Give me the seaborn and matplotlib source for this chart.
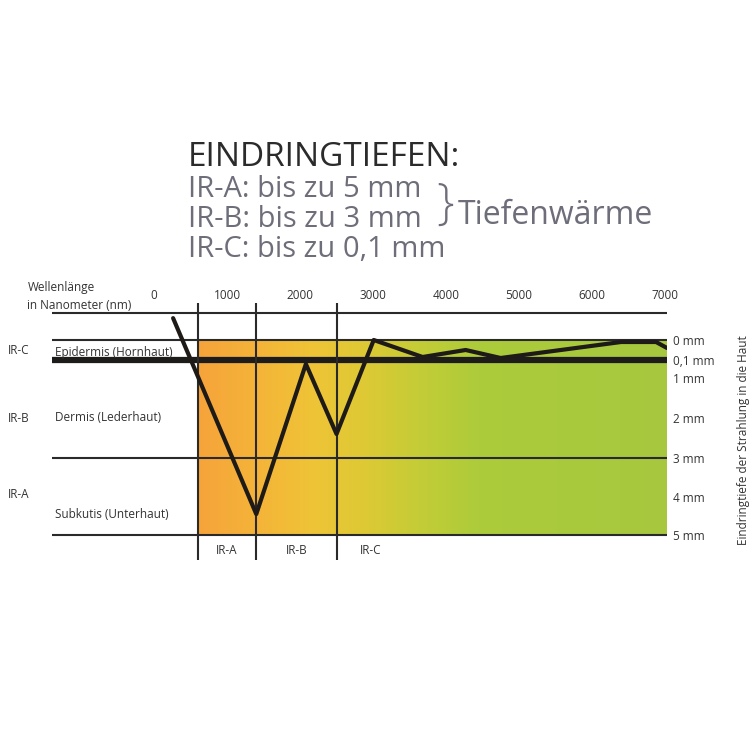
import numpy as np
import matplotlib
matplotlib.use("Agg")
import matplotlib.pyplot as plt
from matplotlib.colors import LinearSegmentedColormap, Normalize
import seaborn as sns

# penetration curve: wavelength (nm) -> depth in skin (mm)
wavelength_nm = [260, 1400, 2080, 2500, 3010, 3680, 4270, 4750, 6400, 6880, 7030]
depth_mm = [-0.81, 4.45, 0.3, 2.4, 0.0, 0.085, 0.05, 0.09, 0.01, 0.01, 0.04]

wl_ticks = [0, 1000, 2000, 3000, 4000, 5000, 6000, 7000]
depth_ticks = [0, 0.1, 1, 2, 3, 4, 5]
depth_labels = ["0 mm", "0,1 mm", "1 mm", "2 mm", "3 mm", "4 mm", "5 mm"]

band_edges = [600, 1400, 2500]          # vertical separators (nm)
band_names = ["IR-A", "IR-B", "IR-C"]
band_label_x = [1000, 1950, 2970]
layer_lines = [-1, 0, 3, 5]             # thin horizontal lines (mm)
horny_layer = 0.1                       # thick line (mm)

title = "EINDRINGTIEFEN:"
title_lines = ["IR-A: bis zu 5 mm", "IR-B: bis zu 3 mm", "IR-C: bis zu 0,1 mm"]

# the depth axis of the drawing is not linear -> piecewise mapping
_d = [-1.4, -1, 0, 0.1, 1, 2, 3, 4, 5, 6]
_p = [303, 313, 340, 360, 378, 418, 458, 497, 535, 560]


def fwd(v):
    return np.interp(v, _d, _p)


def inv(v):
    return np.interp(v, _p, _d)


W = H = 750


def px(x, y):
    return x / W, 1 - y / H


sns.set_theme(style="white")
plt.rcParams["font.family"] = ["Open Sans", "DejaVu Sans"]

fig = plt.figure(figsize=(7.5, 7.5), dpi=100)
ax = fig.add_axes([52 / W, 1 - 560 / H, 615 / W, 257 / H])
ax.set_yscale("function", functions=(fwd, inv))
ax.set_xlim(-1400, 7030)
ax.set_ylim(6, -1.4)
for s in ax.spines.values():
    s.set_visible(False)

# colour gradient (orange -> yellow -> green)
grad = LinearSegmentedColormap.from_list(
    "ir",
    [(0.0, "#f5a33a"), (0.13, "#f4b438"), (0.25, "#eec436"),
     (0.36, "#dcc934"), (0.47, "#c4cc36"), (0.6, "#accb3a"), (1.0, "#a6c73e")],
)
gx = np.linspace(600, 7030, 300)
gy = np.array([0, 5])
gc = ((gx[:-1] + gx[1:]) / 2)[None, :]
ax.pcolormesh(gx, gy, gc, cmap=grad, norm=Normalize(600, 7030), shading="flat",
              zorder=0, rasterized=True)

line_c = "#2a2a2a"
for d in layer_lines:
    ax.axhline(d, color=line_c, lw=1.5, zorder=2)
ax.axhline(horny_layer, color="#1e1c1a", lw=4.5, zorder=2)
for e in band_edges:
    ax.axvline(e, color=line_c, lw=1.5, zorder=2)

sns.lineplot(x=wavelength_nm, y=depth_mm, ax=ax, color="#1e1a17", lw=3,
             sort=False, zorder=3)

fs = 8.5
# axes labels as ticks
ax.xaxis.tick_top()
ax.set_xticks(wl_ticks)
ax.set_xticklabels([str(t) for t in wl_ticks])
ax.tick_params(axis="x", length=0, pad=0.5, labelsize=fs, labelcolor="#333333")
ax.yaxis.tick_right()
ax.set_yticks(depth_ticks)
ax.set_yticklabels(depth_labels)
ax.yaxis.set_minor_locator(matplotlib.ticker.NullLocator())
ax.tick_params(axis="y", length=0, pad=4, labelsize=fs, labelcolor="#333333")
ax.yaxis.set_label_position("right")
ax.set_ylabel("Eindringtiefe der Strahlung in die Haut", fontsize=fs,
              color="#333333", rotation=90)
ax.yaxis.set_label_coords((737 - 52) / 615, (560 - 440) / 257)
ax.set_xlabel("")

for name, x in zip(band_names, band_label_x):
    ax.text(x, 5.64, name, ha="center", va="center", fontsize=fs, color="#333333")

# left-hand labels
small = dict(fontsize=fs, color="#333333", va="center", ha="left")
fig.text(*px(28, 288), "Wellenlänge", **small)
fig.text(*px(27, 305), "in Nanometer (nm)", **small)
fig.text(*px(8, 350), "IR-C", **small)
fig.text(*px(8, 418), "IR-B", **small)
fig.text(*px(8, 495), "IR-A", **small)
fig.text(*px(55, 352), "Epidermis (Hornhaut)", **small)
fig.text(*px(55, 417), "Dermis (Lederhaut)", **small)
fig.text(*px(55, 515), "Subkutis (Unterhaut)", **small)

# heading block
grey = "#6e6e7a"
fig.text(*px(188, 166), title, fontsize=24, color="#2b2b2b", ha="left",
         va="baseline")
for i, t in enumerate(title_lines):
    fig.text(*px(188, 197 + 30 * i), t, fontsize=21, color=grey,
             ha="left", va="baseline")
fig.text(*px(436, 206), "}", fontsize=36, color=grey, ha="left",
         va="center", fontweight="light")
fig.text(*px(458, 216), "Tiefenwärme", fontsize=23, color=grey,
         ha="left", va="center")

fig.savefig("out.png", dpi=100, facecolor="white")
